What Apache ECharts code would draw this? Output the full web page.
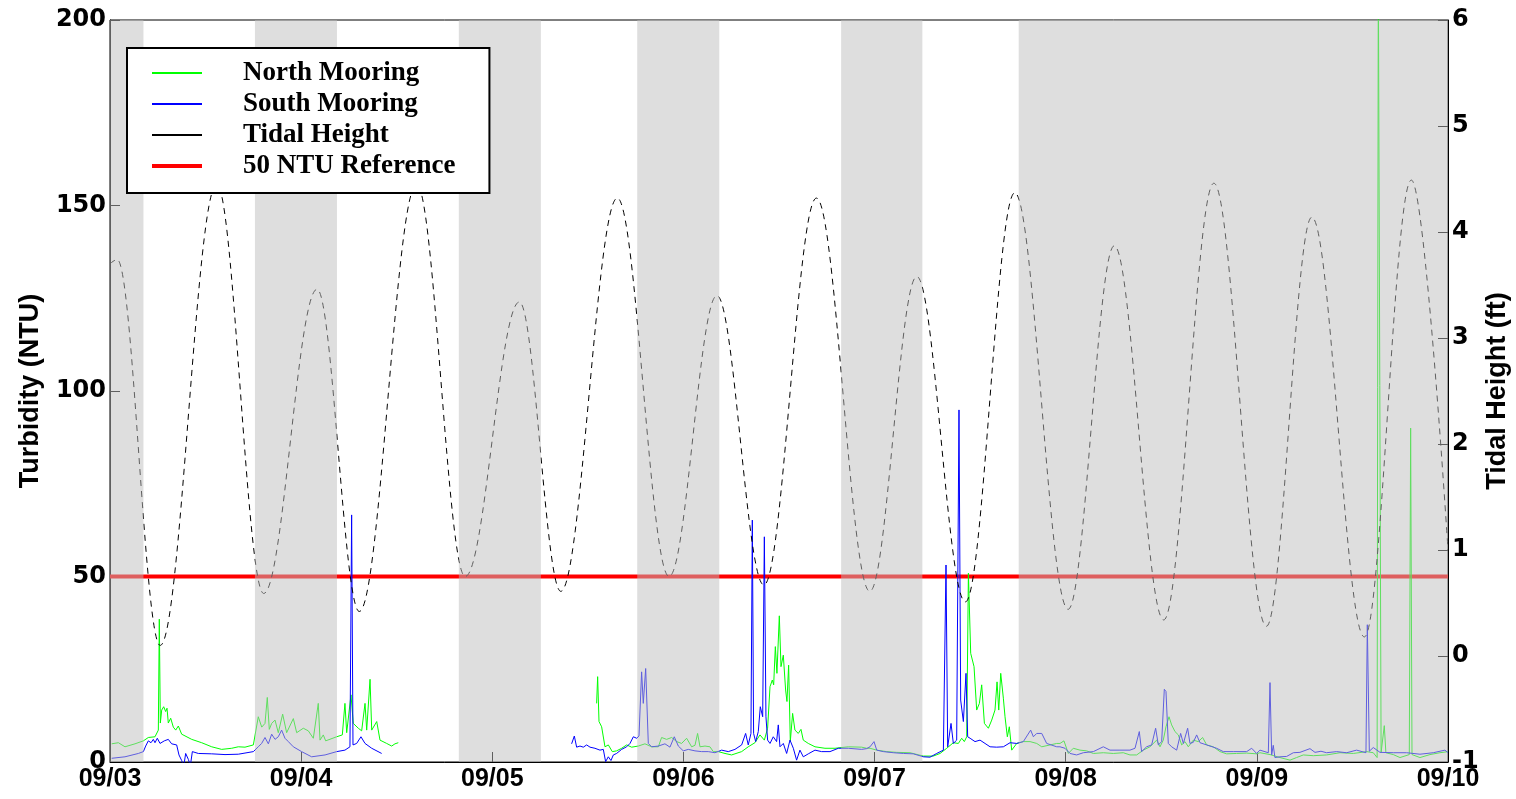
<!DOCTYPE html>
<html><head><meta charset="utf-8">
<script src="https://cdn.jsdelivr.net/npm/echarts@6/dist/echarts.min.js"></script>
<style>html,body{margin:0;padding:0;background:#fff}#c{width:1516px;height:799px}</style>
</head><body><div id="c"></div>
<script>
// x values are hours since 09/03 00:00
const xTickLabels = ['09/03','09/04','09/05','09/06','09/07','09/08','09/09','09/10'];
const nightBands = [[0,4.2],[18.2,28.5],[43.8,54.1],[66.2,76.5],[91.8,102.0],[114.1,168]];
const referenceNTU = 50;

const tideHours = [0,0.9,6.3,13.4,19.3,26.0,31.3,38.5,44.6,51.4,56.6,63.7,70.2,76.2,82.1,88.7,95.4,101.3,107.4,113.6,120.3,126.1,132.3,138.6,145.2,150.9,157.5,163.4,168];
const tideFeet  = [3.70,3.74,0.10,4.45,0.59,3.46,0.42,4.45,0.75,3.34,0.61,4.32,0.75,3.40,0.67,4.32,0.61,3.58,0.51,4.37,0.44,3.87,0.34,4.46,0.28,4.14,0.18,4.49,1.0];

const northDay1 = [[0.21,4.9],[1.05,5.2],[1.88,4.1],[3.14,4.9],[4.19,5.7],[4.81,6.6],[5.65,6.8],[6.07,8.6],[6.19,38.5],[6.32,10.5],[6.49,14.0],[6.74,14.9],[6.99,13.6],[7.16,14.5],[7.32,10.5],[7.62,11.8],[7.95,9.4],[8.25,8.6],[8.58,9.7],[9.0,7.5],[10.26,6.1],[11.51,5.2],[12.77,4.1],[14.02,3.4],[15.28,3.7],[16.11,4.1],[16.95,4.0],[18.0,4.6],[18.62,12.2],[19.05,9.4],[19.46,10.4],[19.75,17.4],[20.0,8.8],[20.3,10.4],[20.72,11.3],[21.13,7.9],[21.68,12.9],[22.18,7.9],[23.02,11.7],[23.44,7.9],[24.27,9.1],[24.9,8.4],[25.53,6.4],[26.15,15.8],[26.37,5.9],[26.78,7.3],[27.08,5.7],[28.46,6.8],[29.17,7.3],[29.5,15.8],[29.72,7.9],[30.26,18.1],[30.55,10.4],[31.18,9.1],[31.6,8.4],[32.02,15.8],[32.23,8.6],[32.65,22.3],[32.86,8.6],[33.49,10.9],[33.9,5.9],[34.74,5.0],[35.37,4.3],[35.78,4.9],[36.2,5.2]];
const northLater = [[61.1,15.8],[61.23,23.0],[61.4,10.9],[61.73,9.5],[62.15,4.1],[62.57,4.6],[63.07,2.8],[63.61,3.0],[64.24,3.7],[64.87,4.6],[65.5,4.0],[66.33,4.3],[67.17,4.9],[68.01,4.1],[68.85,4.1],[69.26,6.6],[69.89,6.1],[70.52,6.6],[71.15,5.5],[71.77,5.0],[72.4,6.4],[73.03,4.1],[73.45,4.5],[73.78,7.7],[74.08,4.1],[74.71,4.3],[75.33,4.1],[75.75,2.8],
[76.38,2.8],[77.22,2.3],[78.05,1.9],[79.31,2.8],[80.14,4.1],[80.98,5.2],[81.61,7.3],[82.16,5.9],[82.57,9.1],[82.87,20.3],[83.16,22.1],[83.33,20.8],[83.54,31.1],[83.74,23.9],[84.04,39.4],[84.25,25.7],[84.54,28.8],[84.83,19.4],[85.0,16.3],[85.21,26.1],[85.42,5.5],[85.71,13.1],[86.0,8.6],[86.42,7.7],[86.76,8.8],[87.05,5.9],[87.68,5.0],[88.52,4.1],[89.77,3.7],[91.03,3.7],[92.7,4.1],[94.38,4.0],[95.0,3.7],
[95.43,3.7],[96.27,3.2],[97.52,2.8],[98.78,2.6],[100.45,2.5],[102.13,1.6],[103.38,1.6],[104.22,2.3],[105.06,3.7],[105.89,5.2],[106.52,5.0],[106.94,6.4],[107.27,5.5],[107.57,6.8],[107.78,50.9],[108.07,29.3],[108.49,25.7],[108.82,14.0],[109.16,15.8],[109.45,20.8],[109.79,10.4],[110.29,9.1],[110.71,11.3],[111.12,14.0],[111.38,21.6],[111.59,14.0],[111.84,23.9],[112.17,17.2],[112.38,12.2],[112.67,6.8],[112.92,9.5],[113.22,3.2],[113.85,5.0],[114.68,5.5],[115.52,5.5],[116.36,5.0],[116.99,4.1],[118.03,4.6],[118.87,5.0],
[119.28,5.0],[119.78,5.7],[120.33,2.3],[120.95,3.7],[121.79,3.2],[122.63,3.0],[123.47,2.3],[124.72,2.5],[125.98,2.3],[127.23,2.5],[128.07,1.9],[128.91,1.9],[129.74,3.2],[130.58,4.1],[131.42,5.9],[131.84,4.1],[132.25,5.9],[132.59,9.5],[132.97,12.2],[133.3,10.0],[133.72,8.2],[134.14,7.3],[134.56,4.6],[134.98,5.5],[135.39,4.1],[136.02,5.9],[136.65,5.5],[137.19,6.6],[137.7,4.6],[138.53,4.1],[139.37,2.8],[140.21,2.2],[141.46,2.3],[142.72,2.4],[143.97,2.2],
[144.39,2.5],[145.65,2.0],[146.9,1.2],[148.16,0.5],[148.99,1.2],[149.83,1.9],[151.09,1.7],[152.76,1.9],[154.44,2.5],[156.11,2.3],[157.79,2.8],[158.62,2.5],[159.1,1.2],[159.25,215],[159.45,215],[159.6,2.5],[159.8,2.0],[160.0,9.8],[160.2,2.5],[161.13,2.0],[161.97,1.2],[163.14,2.0],[163.31,90.0],[163.48,2.0],[164.48,1.2],[165.74,2.0],[166.99,2.5],[168,2.8]];

const southDay1 = [[0.21,1.0],[1.88,1.4],[3.56,2.3],[4.19,2.8],[4.48,4.3],[4.81,5.7],[5.15,5.2],[5.44,6.1],[5.65,5.2],[5.94,6.4],[6.28,5.0],[6.82,5.7],[7.32,6.1],[7.74,4.9],[8.37,4.6],[8.66,1.9],[9.0,0.4],[9.25,-1.3],[9.5,2.3],[9.84,0.7],[10.09,-1.0],[10.34,2.8],[11.09,2.3],[12.77,2.2],[14.44,2.0],[16.11,2.1],[18.0,2.8],[18.62,4.1],[19.04,5.0],[19.46,6.6],[19.88,4.9],[20.3,7.5],[20.72,6.1],[21.13,6.8],[21.55,8.6],[21.97,6.4],[22.39,5.5],[23.02,4.1],[24.06,2.8],[25.32,1.4],[27.0,1.9],[28.46,2.8],[29.5,3.2],[30.13,4.1],[30.34,66.6],[30.51,4.6],[30.97,5.0],[31.51,6.8],[32.02,5.0],[32.86,3.7],[34.11,2.3]];
const southLater = [[57.96,4.9],[58.3,7.0],[58.59,4.0],[59.01,4.3],[59.43,4.0],[59.85,4.6],[60.27,4.0],[60.89,3.7],[61.52,3.2],[61.94,3.4],[62.23,0.1],[62.57,1.4],[62.9,0.4],[63.2,1.9],[63.61,2.3],[64.24,3.4],[64.87,4.1],[65.29,5.0],[65.71,6.8],[66.13,6.4],[66.42,7.0],[66.75,24.3],[66.96,15.8],[67.26,25.2],[67.59,5.0],[68.01,4.1],[68.85,4.3],[69.68,4.9],[70.31,4.0],[70.85,6.8],[71.36,4.3],[71.98,3.0],[72.61,3.4],[73.45,3.0],[74.29,2.8],[75.12,2.8],[75.96,2.5],
[76.8,3.2],[77.63,2.8],[78.47,3.4],[79.31,4.6],[79.81,7.7],[80.14,4.6],[80.48,7.7],[80.65,65.2],[80.81,7.7],[81.07,5.5],[81.4,8.2],[81.65,14.9],[81.95,12.2],[82.16,60.7],[82.36,12.2],[82.57,5.9],[82.87,5.0],[83.28,6.8],[83.7,5.5],[83.91,10.0],[84.12,4.1],[84.54,5.0],[84.96,2.3],[85.38,5.9],[85.8,3.7],[86.21,0.5],[86.63,3.2],[87.05,1.4],[87.68,2.2],[88.52,3.2],[89.35,2.8],[90.4,2.8],[91.45,3.7],[92.7,3.7],[94.38,3.4],[95.0,3.6],
[95.43,4.1],[95.93,5.5],[96.27,3.2],[97.1,2.8],[98.36,2.5],[99.62,2.3],[100.87,2.2],[102.13,1.4],[102.96,1.3],[103.8,2.3],[104.64,3.2],[104.97,53.1],[105.18,4.1],[105.6,10.4],[105.89,5.0],[106.31,5.9],[106.6,94.9],[106.81,16.7],[107.15,10.9],[107.48,23.9],[107.69,6.8],[107.99,6.4],[108.61,5.5],[109.24,5.9],[109.87,5.0],[110.5,4.1],[111.33,4.0],[112.17,4.1],[113.01,5.2],[113.85,5.0],[114.68,5.5],[115.6,8.6],[115.94,6.8],[116.36,7.7],[116.99,7.7],[117.61,5.0],[118.87,4.1],
[119.28,4.1],[119.91,3.7],[120.54,2.3],[121.37,1.9],[122.21,2.5],[123.47,2.8],[124.72,4.1],[125.56,3.2],[126.81,3.2],[128.07,3.2],[128.7,3.7],[129.24,8.2],[129.53,2.8],[130.16,4.1],[130.79,4.6],[131.29,9.1],[131.63,4.6],[132.05,5.5],[132.38,19.6],[132.59,19.0],[132.88,5.0],[133.3,4.1],[133.93,3.2],[134.43,7.7],[134.77,5.0],[135.31,9.1],[135.6,5.0],[136.02,5.3],[136.44,7.3],[136.86,5.2],[137.7,4.6],[138.95,3.7],[139.79,2.8],[141.04,2.8],[142.72,2.8],[143.35,3.7],[143.97,2.3],
[144.39,3.2],[145.44,2.5],[145.65,21.4],[145.86,1.9],[146.06,4.5],[146.27,1.2],[146.9,1.4],[147.74,1.5],[148.58,2.5],[149.41,2.6],[150.67,3.6],[151.3,2.6],[152.05,2.9],[152.76,2.5],[154.02,2.8],[155.27,2.5],[156.53,3.2],[157.7,2.5],[157.87,37.0],[158.12,2.9],[158.62,3.9],[159.46,2.6],[161.13,2.5],[162.8,2.5],[164.48,2.1],[166.15,2.5],[167.62,3.2],[168,2.5]];

const gap = (a, b) => a.concat([[ (a[a.length-1][0] + b[0][0]) / 2, '-' ]], b);
const tideData = tideHours.map((h, i) => [h, tideFeet[i]]);

const chart = echarts.init(document.getElementById('c'), null, {renderer: 'canvas'});
const tickFontY = {color: '#000', fontFamily: 'DejaVu Sans', fontWeight: 'bold', fontSize: 24};
const titleFont = {color: '#000', fontFamily: 'Liberation Sans', fontWeight: 'bold', fontSize: 27};

chart.setOption({
  animation: false,
  backgroundColor: '#fff',
  grid: {left: 110, right: 68, top: 20, bottom: 37, outerBoundsMode: 'none', containLabel: false,
         show: true, borderColor: '#000', borderWidth: 1, backgroundColor: 'transparent'},
  legend: {
    orient: 'vertical', left: 127, top: 48, z: 30,
    backgroundColor: '#fff', borderColor: '#000', borderWidth: 2,
    padding: [10, 34, 12, 23], itemGap: 1, itemWidth: 50, itemHeight: 2,
    itemStyle: {opacity: 0},
    textStyle: {color: '#000', fontFamily: 'Liberation Serif', fontWeight: 'bold', fontSize: 27, lineHeight: 22, padding: [8, 0, 0, 36]},
    data: [
      {name: 'North Mooring', lineStyle: {width: 2}},
      {name: 'South Mooring', lineStyle: {width: 2}},
      {name: 'Tidal Height', lineStyle: {width: 2, type: 'solid'}},
      {name: '50 NTU Reference', lineStyle: {width: 4}}
    ]
  },
  xAxis: {
    type: 'value', min: 0, max: 168, interval: 24,
    axisLine: {show: true, onZero: false, lineStyle: {color: '#000', width: 1}},
    axisTick: {show: true, inside: true, length: 10, lineStyle: {color: '#000'}},
    axisLabel: {formatter: v => xTickLabels[Math.round(v / 24)], color: '#000', fontFamily: 'Liberation Sans', fontWeight: 'bold', fontSize: 25, margin: 5, showMinLabel: true, showMaxLabel: true},
    splitLine: {show: false}
  },
  yAxis: [
    {type: 'value', min: 0, max: 200, interval: 50, position: 'left',
     name: 'Turbidity (NTU)', nameLocation: 'middle', nameGap: 66, nameMoveOverlap: false, nameTextStyle: titleFont,
     axisLine: {show: true, lineStyle: {color: '#000'}},
     axisTick: {show: true, inside: true, length: 10, lineStyle: {color: '#000'}},
     axisLabel: Object.assign({margin: 4, showMinLabel: true, showMaxLabel: true}, tickFontY),
     splitLine: {show: false}},
    {type: 'value', min: -1, max: 6, interval: 1, position: 'right',
     name: 'Tidal Height (ft)', nameLocation: 'middle', nameGap: 36, nameMoveOverlap: false, nameTextStyle: titleFont,
     axisLine: {show: true, lineStyle: {color: '#000'}},
     axisTick: {show: true, inside: true, length: 10, lineStyle: {color: '#000'}},
     axisLabel: Object.assign({margin: 4, showMinLabel: true, showMaxLabel: true}, tickFontY),
     splitLine: {show: false}}
  ],
  series: [
    {name: '50 NTU Reference', type: 'line', symbol: 'none', z: 2,
     data: [[0, referenceNTU], [168, referenceNTU]], lineStyle: {color: '#ff0000', width: 4}, itemStyle: {color: '#ff0000'}},
    {name: 'North Mooring', type: 'line', symbol: 'none', z: 3, connectNulls: false,
     data: gap(northDay1, northLater), lineStyle: {color: '#00ff00', width: 1}, itemStyle: {color: '#00ff00'}},
    {name: 'South Mooring', type: 'line', symbol: 'none', z: 4, connectNulls: false,
     data: gap(southDay1, southLater), lineStyle: {color: '#0000ff', width: 1}, itemStyle: {color: '#0000ff'}},
    {name: 'Tidal Height', type: 'line', symbol: 'none', z: 5, yAxisIndex: 1,
     smooth: 0.36, smoothMonotone: 'x',
     data: tideData, lineStyle: {color: '#000', width: 1, type: [6, 5]}, itemStyle: {color: '#000'}},
    {name: 'night', type: 'line', symbol: 'none', z: 10, data: [],
     markArea: {silent: true, z: 10, itemStyle: {color: 'rgba(190,190,190,0.5)'},
       data: nightBands.map(b => [{xAxis: b[0]}, {xAxis: b[1]}])}}
  ]
});
</script></body></html>
